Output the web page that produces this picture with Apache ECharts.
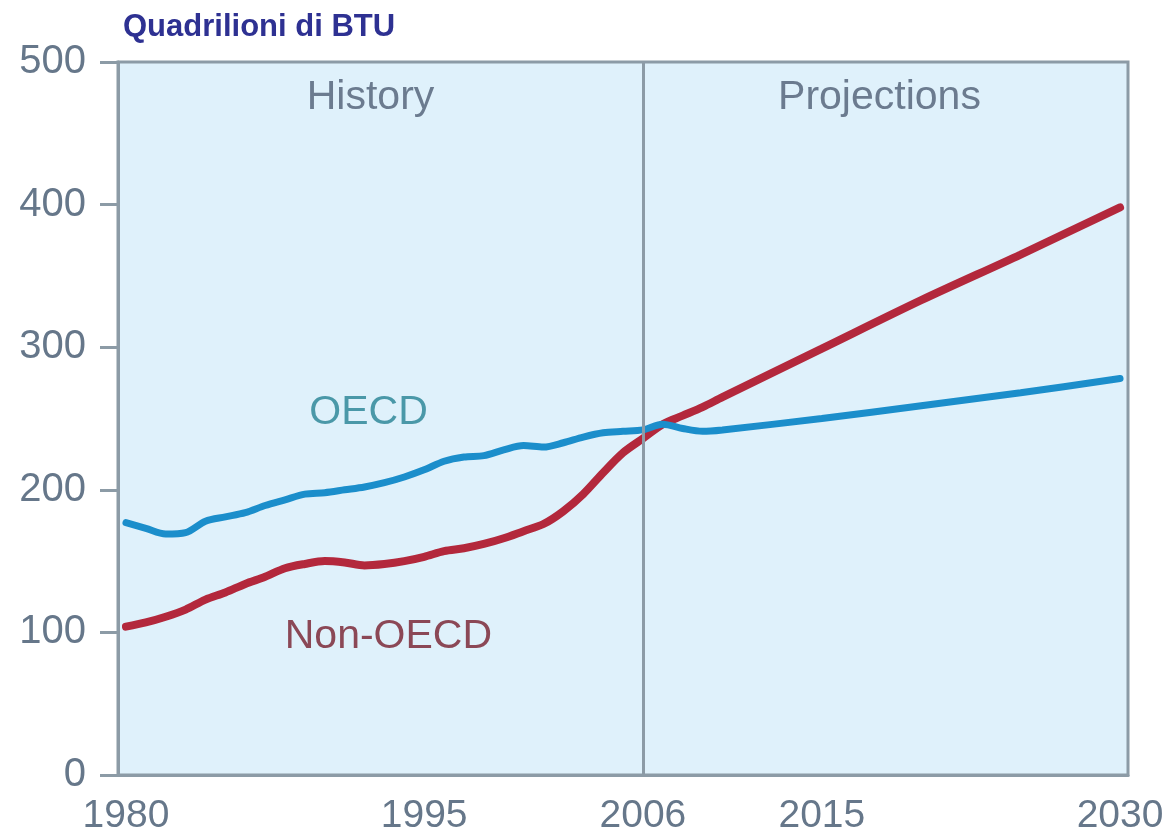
<!DOCTYPE html>
<html>
<head>
<meta charset="utf-8">
<script src="https://cdn.jsdelivr.net/npm/echarts@6/dist/echarts.min.js"></script>
<style>
html,body{margin:0;padding:0;background:#ffffff;}
#chart{width:1171px;height:836px;}
</style>
</head>
<body>
<div id="chart"></div>
<script>
// ---- data ----
const years = [1980,1981,1982,1983,1984,1985,1986,1987,1988,1989,1990,1991,1992,1993,1994,1995,1996,1997,1998,1999,2000,2001,2002,2003,2004,2005,2006,2007,2008,2009,2010,2015,2020,2025,2030];
const oecd = [177,173,169,170,178,181,184,189,193,197,198,200,202,205,209,214,220,223,224,228,231,230,233,237,240,241,242,246,243,241,242,250,259,268,278];
const nonOecd = [104,107,111,116,123,128,134,139,145,148,150,149,147,148,150,153,157,159,162,166,171,176,185,197,212,226,236,246,252,258,265,299,333,365,398];
const xTickLabels = [1980,1995,2006,2015,2030];
const yTicks = [0,100,200,300,400,500];
const divideYear = 2006;
const titleText = 'Quadrilioni di BTU';
const seriesNames = ['OECD','Non-OECD'];
const sectionLabels = ['History','Projections'];

const toPairs = (vals) => years.map((y,i)=>[y, vals[i]]);

const chart = echarts.init(document.getElementById('chart'));
const axisColor = '#8c9ba6';
const labelColor = '#66778a';
const font = 'Liberation Sans, Arial, sans-serif';

function annot(coord, text, color){
  return {
    coord: coord, value: text,
    symbol:'circle', symbolSize:2,
    itemStyle:{color:'rgba(0,0,0,0)'},
    label:{show:true, position:'inside', formatter:text, color:color, fontSize:41, fontFamily:font}
  };
}

chart.setOption({
  animation:false,
  backgroundColor:'#ffffff',
  title:{
    text:titleText, left:118, top:7,
    textStyle:{fontFamily:font, fontSize:31, fontWeight:'bold', color:'#2e3192'}
  },
  grid:{
    left:118, right:43, top:62, bottom:61,
    show:true, backgroundColor:'#dff1fb', borderColor:axisColor, borderWidth:3
  },
  xAxis:{
    type:'value', min:1979.6, max:2030.4,
    axisLine:{show:true, lineStyle:{color:axisColor, width:3}},
    axisTick:{show:false},
    splitLine:{show:false},
    axisLabel:{
      customValues:xTickLabels, margin:22,
      fontFamily:font, fontSize:39, color:labelColor,
      formatter:(v)=>String(v)
    }
  },
  yAxis:{
    type:'value', min:0, max:500, interval:100,
    axisLine:{show:true, lineStyle:{color:axisColor, width:3}},
    axisTick:{show:true, inside:false, length:18, lineStyle:{color:axisColor, width:3}},
    splitLine:{show:false},
    axisLabel:{margin:32, fontFamily:font, fontSize:40, color:labelColor}
  },
  series:[
    {
      name:seriesNames[0], type:'line', data:toPairs(oecd),
      showSymbol:false, smooth:0.3,
      lineStyle:{color:'#1b8ecb', width:7, cap:'round'},
      z:3,
      markLine:{
        silent:true, symbol:'none', label:{show:false},
        lineStyle:{color:'#8c9ba6', width:3, type:'solid'},
        data:[{xAxis:divideYear}]
      },
      markPoint:{
        silent:true,
        data:[
          annot([1992.3,475], sectionLabels[0], '#6b7b8f'),
          annot([2017.9,475], sectionLabels[1], '#6b7b8f'),
          annot([1992.2,254], seriesNames[0], '#4a98a8')
        ]
      }
    },
    {
      name:seriesNames[1], type:'line', data:toPairs(nonOecd),
      showSymbol:false, smooth:0.3,
      lineStyle:{color:'#b3283c', width:8, cap:'round'},
      z:2,
      markPoint:{
        silent:true,
        data:[ annot([1993.2,97], seriesNames[1], '#8b4856') ]
      }
    }
  ]
});
</script>
</body>
</html>
